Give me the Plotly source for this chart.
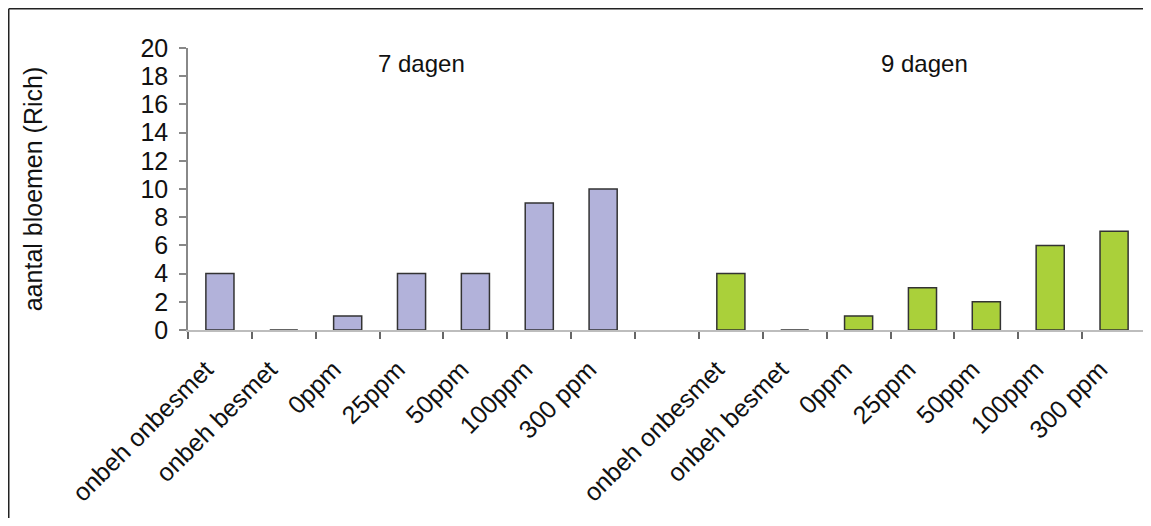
import plotly.graph_objects as go

# ---- data ----
categories = ["onbeh onbesmet", "onbeh besmet", "0ppm", "25ppm", "50ppm", "100ppm", "300 ppm"]
values_7d = [4, 0, 1, 4, 4, 9, 10]
values_9d = [4, 0, 1, 3, 2, 6, 7]
group_titles = ["7 dagen", "9 dagen"]
y_title = "aantal bloemen (Rich)"
y_ticks = list(range(0, 21, 2))

n = len(categories)
x_7d = list(range(n))
x_9d = [n + 1 + i for i in range(n)]   # one empty slot between the groups

FONT = "Liberation Sans, Arial, sans-serif"

# page has an 8px body margin, so the figure starts at (8, 8)
W, H = 1143, 510
ML, MR, MT, MB = 180, 5, 40, 188
PW, PH = W - ML - MR, H - MT - MB

fig = go.Figure()
fig.add_trace(go.Bar(
    x=x_7d, y=values_7d, width=0.44,
    marker=dict(color="#b2b2da", line=dict(color="#333333", width=1.5)),
    showlegend=False, hoverinfo="x+y",
))
fig.add_trace(go.Bar(
    x=x_9d, y=values_9d, width=0.44,
    marker=dict(color="#aad03a", line=dict(color="#333333", width=1.5)),
    showlegend=False, hoverinfo="x+y",
))

for title, xs, shift in zip(group_titles, [x_7d, x_9d], [10, 2]):
    fig.add_annotation(
        x=sum(xs) / len(xs), y=18.9, xref="x", yref="y", xshift=shift,
        text=title, showarrow=False,
        font=dict(family=FONT, size=24, color="#111111"),
        xanchor="center", yanchor="middle",
    )

# outer frame: only the top and left edges are visible in the picture
frame_x = (0.75 - ML) / PW
frame_y = (PH + MT - 0.75) / PH
fig.add_shape(type="line", xref="paper", yref="paper",
              x0=frame_x, x1=(W - ML) / PW, y0=frame_y, y1=frame_y,
              line=dict(color="#222222", width=1.5), layer="below")
fig.add_shape(type="line", xref="paper", yref="paper",
              x0=frame_x, x1=frame_x, y0=-MB / PH, y1=frame_y,
              line=dict(color="#222222", width=1.5), layer="below")

fig.update_layout(
    width=W, height=H,
    margin=dict(l=ML, r=MR, t=MT, b=MB),
    paper_bgcolor="white", plot_bgcolor="white",
    font=dict(family=FONT, size=24, color="#111111"),
)

fig.update_xaxes(
    range=[-0.5, 2 * n + 0.5],
    tickmode="array",
    tickvals=x_7d + x_9d,
    ticktext=categories + categories,
    tickangle=-45,
    ticks="",
    ticklabelstandoff=13,
    ticklabelshift=-14,
    tickfont=dict(family=FONT, size=25, color="#111111"),
    showline=True, linecolor="#bdbdbd", linewidth=2,
    showgrid=False, zeroline=False,
    minor=dict(ticks="outside", ticklen=7, tickwidth=1.5, tickcolor="#666666",
               tick0=-0.5, dtick=1, showgrid=False),
    automargin=False,
)

fig.update_yaxes(
    range=[0, 20],
    tickmode="array", tickvals=y_ticks,
    ticks="outside", ticklen=7, tickwidth=1.5, tickcolor="#888888",
    ticklabelstandoff=6,
    tickfont=dict(family=FONT, size=25, color="#111111"),
    showline=True, linecolor="#888888", linewidth=1.5,
    showgrid=False, zeroline=False,
    title=dict(text=y_title, font=dict(family=FONT, size=25, color="#111111"), standoff=91),
    automargin=False,
)

fig.write_html("out.html")
